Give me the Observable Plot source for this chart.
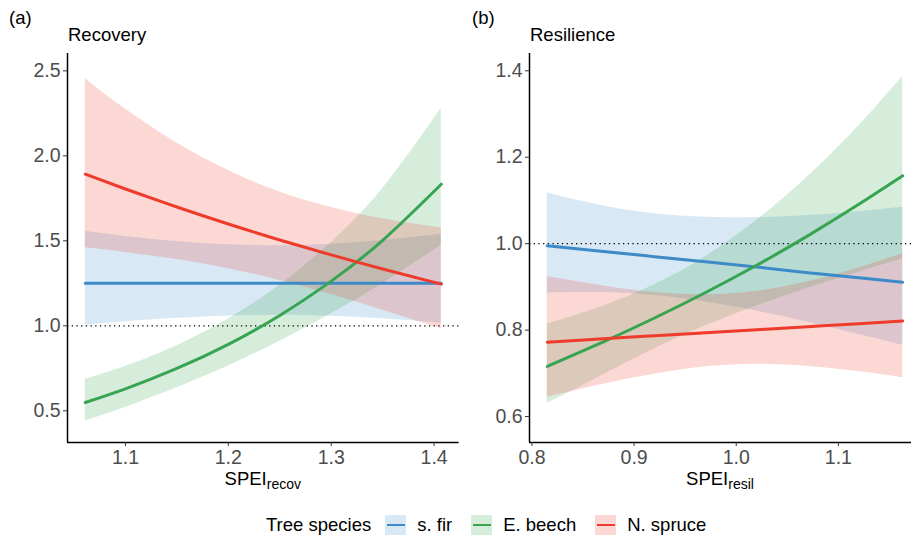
<!DOCTYPE html>
<html>
<head>
<meta charset="utf-8">
<script src="https://cdn.jsdelivr.net/npm/d3@7"></script>
<script src="https://cdn.jsdelivr.net/npm/@observablehq/plot@0.6"></script>
<style>
  html, body { margin: 0; padding: 0; background: #fff; }
  #root { position: relative; width: 911px; height: 537px; overflow: hidden;
          font-family: "Liberation Sans", Arial, Helvetica, sans-serif; color: #000; }
  .txt { position: absolute; font-size: 18.5px; line-height: 20px; white-space: nowrap; }
  .xlab { position: absolute; font-size: 18.5px; line-height: 20px; text-align: center; white-space: nowrap; }
  .xlab sub { font-size: 14px; vertical-align: -4px; line-height: 0; }
  .panel { position: absolute; top: 45px; }
  #legend { position: absolute; left: 266px; top: 515px; height: 20px; display: flex; align-items: center;
            font-size: 18.5px; line-height: 20px; white-space: nowrap; }
  .sw { width: 21px; height: 20px; position: relative; margin-right: 11px; }
  .sw i { position: absolute; left: 1.5px; right: 1.5px; top: 8.6px; height: 2.8px; }
</style>
</head>
<body>
<div id="root"></div>
<script>
// ---------- data ----------
const species = ["s. fir", "E. beech", "N. spruce"];
const speciesColors = ["#3C8AC8", "#36A450", "#EF3B2C"];

// Panel (a) Recovery
const recovX = [1.061, 1.10, 1.15, 1.20, 1.25, 1.30, 1.35, 1.407];
const recovFirFit = [1.25, 1.25, 1.25, 1.25, 1.25, 1.25, 1.25, 1.25];
const recovFirLo  = [1.004, 1.024, 1.044, 1.058, 1.062, 1.056, 1.041, 1.015];
const recovFirHi  = [1.556, 1.526, 1.496, 1.477, 1.471, 1.480, 1.502, 1.539];
const recovBeechFit = [0.549, 0.629, 0.749, 0.891, 1.061, 1.263, 1.503, 1.833];
const recovBeechLo  = [0.440, 0.520, 0.635, 0.763, 0.909, 1.071, 1.249, 1.474];
const recovBeechHi  = [0.685, 0.761, 0.883, 1.040, 1.239, 1.490, 1.808, 2.280];
const recovSpruceFit = [1.892, 1.805, 1.699, 1.599, 1.505, 1.417, 1.334, 1.245];
const recovSpruceLo  = [1.459, 1.432, 1.390, 1.336, 1.267, 1.184, 1.092, 0.983];
const recovSpruceHi  = [2.454, 2.275, 2.076, 1.914, 1.787, 1.696, 1.630, 1.576];
const recovYTicks = [0.5, 1.0, 1.5, 2.0, 2.5];
const recovXTicks = [1.1, 1.2, 1.3, 1.4];

// Panel (b) Resilience
const resilX = [0.815, 0.87, 0.92, 0.97, 1.02, 1.07, 1.12, 1.163];
const resilFirFit = [0.995, 0.982, 0.970, 0.958, 0.946, 0.933, 0.921, 0.911];
const resilFirLo  = [0.886, 0.887, 0.880, 0.865, 0.844, 0.818, 0.790, 0.765];
const resilFirHi  = [1.117, 1.087, 1.069, 1.061, 1.060, 1.065, 1.074, 1.084];
const resilBeechFit = [0.716, 0.773, 0.828, 0.887, 0.950, 1.018, 1.091, 1.157];
const resilBeechLo  = [0.630, 0.697, 0.757, 0.810, 0.856, 0.897, 0.934, 0.965];
const resilBeechHi  = [0.814, 0.856, 0.905, 0.970, 1.054, 1.155, 1.273, 1.387];
const resilSpruceFit = [0.772, 0.780, 0.787, 0.794, 0.801, 0.808, 0.815, 0.821];
const resilSpruceLo  = [0.645, 0.675, 0.698, 0.715, 0.721, 0.716, 0.704, 0.690];
const resilSpruceHi  = [0.924, 0.902, 0.887, 0.882, 0.890, 0.912, 0.944, 0.977];
const resilYTicks = [0.6, 0.8, 1.0, 1.2, 1.4];
const resilXTicks = [0.8, 0.9, 1.0, 1.1];

// ---------- build tables ----------
function rows(xs, fit, lo, hi, sp) {
  return xs.map((x, i) => ({x, fit: fit[i], lo: lo[i], hi: hi[i], species: sp}));
}
const recovData = [
  ...rows(recovX, recovFirFit, recovFirLo, recovFirHi, species[0]),
  ...rows(recovX, recovBeechFit, recovBeechLo, recovBeechHi, species[1]),
  ...rows(recovX, recovSpruceFit, recovSpruceLo, recovSpruceHi, species[2])
];
const resilData = [
  ...rows(resilX, resilFirFit, resilFirLo, resilFirHi, species[0]),
  ...rows(resilX, resilBeechFit, resilBeechLo, resilBeechHi, species[1]),
  ...rows(resilX, resilSpruceFit, resilSpruceLo, resilSpruceHi, species[2])
];

const root = document.getElementById("root");

function panel(data, opts) {
  const {left, width, marginLeft, marginRight, xDomain, yDomain, xTicks, yTicks} = opts;
  const chart = Plot.plot({
    width, height: 427,
    marginLeft, marginRight, marginTop: 8, marginBottom: 30,
    style: {fontSize: "18.5px", fontFamily: '"Liberation Sans", Arial, Helvetica, sans-serif', background: "transparent", overflow: "visible"},
    x: {domain: xDomain},
    y: {domain: yDomain},
    color: {domain: species, range: speciesColors},
    marks: [
      Plot.areaY(data, {x: "x", y1: "lo", y2: "hi", fill: "species", fillOpacity: 0.2, curve: "natural"}),
      Plot.ruleY([1], {stroke: "#000", strokeWidth: 1.2, strokeDasharray: "1.3,3.4"}),
      Plot.lineY(data, {x: "x", y: "fit", stroke: "species", strokeWidth: 3, curve: "natural"}),
      Plot.ruleX([xDomain[0]], {stroke: "#000", strokeWidth: 1.5}),
      Plot.ruleY([yDomain[0]], {stroke: "#000", strokeWidth: 1.5}),
      Plot.axisY({ticks: yTicks, tickFormat: d3.format(".1f"), tickSize: 4, tickPadding: 3, label: null, stroke: "#333", fill: "#4d4d4d", fontSize: 19.5}),
      Plot.axisX({ticks: xTicks, tickFormat: d3.format(".1f"), tickSize: 4, tickPadding: 4, label: null, stroke: "#333", fill: "#4d4d4d", fontSize: 19.5})
    ]
  });
  const wrap = document.createElement("div");
  wrap.className = "panel";
  wrap.style.left = left + "px";
  wrap.appendChild(chart);
  root.appendChild(wrap);
}

panel(recovData, {left: 0, width: 460, marginLeft: 67, marginRight: 1.4,
  xDomain: [1.0437, 1.4243], yDomain: [0.3135, 2.602], xTicks: recovXTicks, yTicks: recovYTicks});
panel(resilData, {left: 460, width: 451, marginLeft: 69, marginRight: 0,
  xDomain: [0.7976, 1.1716], yDomain: [0.540, 1.440], xTicks: resilXTicks, yTicks: resilYTicks});

// ---------- texts ----------
function addText(cls, html, left, top, width) {
  const d = document.createElement("div");
  d.className = cls;
  d.innerHTML = html;
  d.style.left = left + "px";
  d.style.top = top + "px";
  if (width) d.style.width = width + "px";
  root.appendChild(d);
}
addText("txt", "(a)", 9, 8);
addText("txt", "Recovery", 68, 25.3);
addText("txt", "(b)", 472, 8);
addText("txt", "Resilience", 530, 25.3);
addText("xlab", "SPEI<sub>recov</sub>", 67, 468.6, 391.6);
addText("xlab", "SPEI<sub>resil</sub>", 529, 468.6, 382);

// ---------- legend ----------
const legend = document.createElement("div");
legend.id = "legend";
const title = document.createElement("span");
title.textContent = "Tree species";
title.style.marginRight = "14px";
legend.appendChild(title);
species.forEach((s, i) => {
  const sw = document.createElement("span");
  sw.className = "sw";
  const c = d3.color(speciesColors[i]);
  sw.style.background = c.copy({opacity: 0.2}).formatRgb();
  const bar = document.createElement("i");
  bar.style.background = speciesColors[i];
  sw.appendChild(bar);
  legend.appendChild(sw);
  const t = document.createElement("span");
  t.textContent = s;
  if (i < species.length - 1) t.style.marginRight = "19px";
  legend.appendChild(t);
});
root.appendChild(legend);
</script>
</body>
</html>
